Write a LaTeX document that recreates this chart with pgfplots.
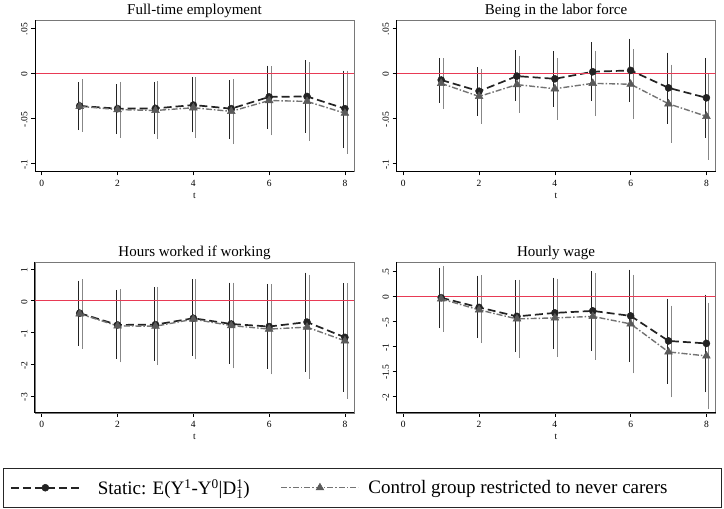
\documentclass[border=0pt]{standalone}
\usepackage{fontspec}
\setmainfont{Liberation Serif}
\usepackage{pgfplots}
\usepackage{pgfplotstable}
\pgfplotsset{compat=1.18}

\definecolor{c1}{RGB}{35,35,35}
\definecolor{c2}{RGB}{115,115,115}
\definecolor{c2m}{RGB}{90,90,90}
\definecolor{c2b}{RGB}{135,135,135}
\definecolor{rline}{RGB}{232,58,85}
\definecolor{framegray}{RGB}{120,120,120}

% columns: t y lo hi
\pgfplotstableread{
t y lo hi
1 -0.036 -0.059 -0.0135
2 -0.039 -0.0635 -0.0157
3 -0.0387 -0.0635 -0.013
4 -0.035 -0.0617 -0.008
5 -0.039 -0.069 -0.011
6 -0.026 -0.058 0.005
7 -0.0255 -0.062 0.011
8 -0.039 -0.079 -0.0007
}\ftA
\pgfplotstableread{
t y lo hi
1 -0.0365 -0.061 -0.010
2 -0.040 -0.0675 -0.013
3 -0.041 -0.069 -0.0124
4 -0.038 -0.0675 -0.0077
5 -0.042 -0.0745 -0.010
6 -0.030 -0.065 0.0044
7 -0.031 -0.0708 0.0084
8 -0.044 -0.0854 -0.0007
}\ftB
\pgfplotstableread{
t y lo hi
1 -0.0073 -0.029 0.0135
2 -0.0197 -0.043 0.0033
3 -0.003 -0.027 0.022
4 -0.006 -0.033 0.0208
5 0.0018 -0.027 0.0307
6 0.0033 -0.028 0.0347
7 -0.016 -0.052 0.0193
8 -0.027 -0.068 0.0135
}\lfA
\pgfplotstableread{
t y lo hi
1 -0.011 -0.036 0.0135
2 -0.0255 -0.052 0.0007
3 -0.0124 -0.040 0.016
4 -0.017 -0.0475 0.013
5 -0.011 -0.0435 0.0215
6 -0.012 -0.047 0.023
7 -0.0336 -0.073 0.006
8 -0.0475 -0.092 -0.0033
}\lfB
\pgfplotstableread{
t y lo hi
1 -0.39 -1.31 0.53
2 -0.76 -1.73 0.24
3 -0.75 -1.78 0.32
4 -0.55 -1.63 0.57
5 -0.73 -1.88 0.47
6 -0.81 -2.04 0.43
7 -0.67 -2.13 0.78
8 -1.15 -2.76 0.45
}\hwA
\pgfplotstableread{
t y lo hi
1 -0.41 -1.42 0.58
2 -0.79 -1.83 0.27
3 -0.80 -1.92 0.33
4 -0.58 -1.74 0.58
5 -0.78 -2.02 0.47
6 -0.89 -2.21 0.42
7 -0.83 -2.35 0.72
8 -1.26 -2.98 0.44
}\hwB
\pgfplotstableread{
t y lo hi
1 -0.027 -0.57 0.51
2 -0.22 -0.77 0.35
3 -0.40 -1.05 0.26
4 -0.33 -0.99 0.31
5 -0.29 -1.03 0.44
6 -0.39 -1.25 0.47
7 -0.89 -1.68 -0.11
8 -0.94 -1.85 -0.03
}\wgA
\pgfplotstableread{
t y lo hi
1 -0.05 -0.64 0.54
2 -0.27 -0.87 0.36
3 -0.45 -1.17 0.27
4 -0.43 -1.15 0.29
5 -0.40 -1.20 0.40
6 -0.55 -1.47 0.37
7 -1.11 -1.95 -0.25
8 -1.19 -2.19 -0.19
}\wgB

\pgfplotsset{
  panel/.style={
    anchor=south west,
    width=319pt, height=151pt, scale only axis,
    xmin=-0.18, xmax=8.24,
    xtick={0,2,4,6,8},
    tick align=outside, tick pos=left,
    major tick length=4pt,
    every tick/.style={black, line width=0.7pt},
    axis line style={draw=framegray, line width=0.9pt},
    /pgf/number format/assume math mode=true,
    ticklabel style={font=\fontsize{9.5}{10}\selectfont},
    yticklabel style={rotate=90, anchor=south, xshift=-1pt},
    xticklabel style={yshift=-1pt},
    xlabel={t},
    xlabel style={font=\fontsize{9.5}{10}\selectfont, at={(0.5,0)}, anchor=base, yshift=-27pt},
    title style={font=\fontsize{15}{16}\selectfont, at={(0.5,1)}, anchor=base, yshift=-0.5pt},
    after end axis/.code={\draw[black, line width=1pt] (rel axis cs:0,1) -- (rel axis cs:0,0) -- (rel axis cs:1,0);},
  },
  barsA/.style={draw=none, forget plot,
    error bars/.cd, y dir=both, y explicit,
    error bar style={draw=c1, solid, line width=0.9pt},
    error mark options={draw=c1, solid, line width=0.9pt, mark size=3.3pt}},
  barsB/.style={draw=none, forget plot,
    error bars/.cd, y dir=both, y explicit,
    error bar style={draw=c2b, solid, line width=0.9pt},
    error mark options={draw=c2b, solid, line width=0.9pt, mark size=3.3pt}},
  serA/.style={c1, line width=1.7pt, dash pattern=on 8pt off 4pt, mark=*, mark size=3.5pt, mark options={solid, fill=c1, draw=c1, line width=0.5pt}},
  serB/.style={c2, line width=1.4pt, dash pattern=on 6pt off 2pt on 1.5pt off 2pt, mark=triangle*, mark size=4.5pt, mark options={solid, fill=c2m, draw=c2m, line width=0.5pt}},
  legA/.style={serA, legend image code/.code={%
    \draw[mark repeat=2, mark phase=2, ##1] plot coordinates {(0pt,0pt) (34.5pt,0pt) (69pt,0pt)};
    \path[draw=none, fill=none] (0pt,-5pt) rectangle (87pt,5pt);}},
  legB/.style={serB, legend image code/.code={%
    \draw[mark repeat=2, mark phase=2, ##1] plot coordinates {(0pt,0pt) (38.5pt,0pt) (77pt,0pt)};
    \path[draw=none, fill=none] (0pt,-5pt) rectangle (87pt,5pt);}},
}

\newcommand{\panelplots}[2]{%
  \addplot[barsA] table[x expr=\thisrow{t}-0.035, y=y, y error plus expr=\thisrow{hi}-\thisrow{y}, y error minus expr=\thisrow{y}-\thisrow{lo}] {#1};
  \addplot[barsB] table[x expr=\thisrow{t}+0.065, y=y, y error plus expr=\thisrow{hi}-\thisrow{y}, y error minus expr=\thisrow{y}-\thisrow{lo}] {#2};
  \addplot[serA] table[x=t, y=y] {#1};
  \addplot[serB] table[x=t, y=y] {#2};
  \addplot[draw=rline, line width=1.2pt, solid, mark=none, forget plot] coordinates {(-0.18,0) (8.24,0)};
}

\begin{document}
\begin{tikzpicture}
\useasboundingbox (0pt,0pt) rectangle (724pt,509pt);

\begin{axis}[panel, at={(35pt,337.5pt)}, title={Full-time employment},
  ymin=-0.1085, ymax=0.0585, ytick={-0.1,-0.05,0,0.05}, yticklabels={-.1,-.05,0,.05}]
\panelplots{\ftA}{\ftB}
\end{axis}

\begin{axis}[panel, at={(396.5pt,337.5pt)}, title={Being in the labor force},
  ymin=-0.1085, ymax=0.0585, ytick={-0.1,-0.05,0,0.05}, yticklabels={-.1,-.05,0,.05}]
\panelplots{\lfA}{\lfB}
\end{axis}

\begin{axis}[panel, at={(35pt,96pt)}, title={Hours worked if working},
  ymin=-3.53, ymax=1.22, ytick={-3,-2,-1,0,1}, yticklabels={-3,-2,-1,0,1}]
\panelplots{\hwA}{\hwB}
\end{axis}

\begin{axis}[panel, at={(396.5pt,96pt)}, title={Hourly wage},
  ymin=-2.33, ymax=0.687, ytick={-2,-1.5,-1,-0.5,0,0.5}, yticklabels={-2,-1.5,-1,-.5,0,.5}]
\panelplots{\wgA}{\wgB}
\end{axis}

\draw[black!85, line width=0.9pt] (3pt,1.5pt) rectangle (721.5pt,41pt);
\begin{axis}[at={(10pt,1.5pt)}, anchor=south west, width=700pt, height=39.5pt, scale only axis,
  hide axis, xmin=0, xmax=1, ymin=0, ymax=1,
  legend style={at={(0,0.5)}, anchor=west, draw=none, fill=none, legend columns=2,
    inner sep=0pt, outer sep=0pt, column sep=0pt,
    nodes={inner sep=0pt},
    font=\fontsize{19}{22}\selectfont,
    /tikz/every even column/.append style={column sep=31pt}},
  legend cell align=left]
\addlegendimage{legA}
\addlegendentry{Static: E(Y$^{\mathrm{1}}$-Y$^{\mathrm{0}}$|D$_{\mathrm{1}}^{\mathrm{1}}$)}
\addlegendimage{legB}
\addlegendentry{Control group restricted to never carers}
\end{axis}
\end{tikzpicture}
\end{document}
